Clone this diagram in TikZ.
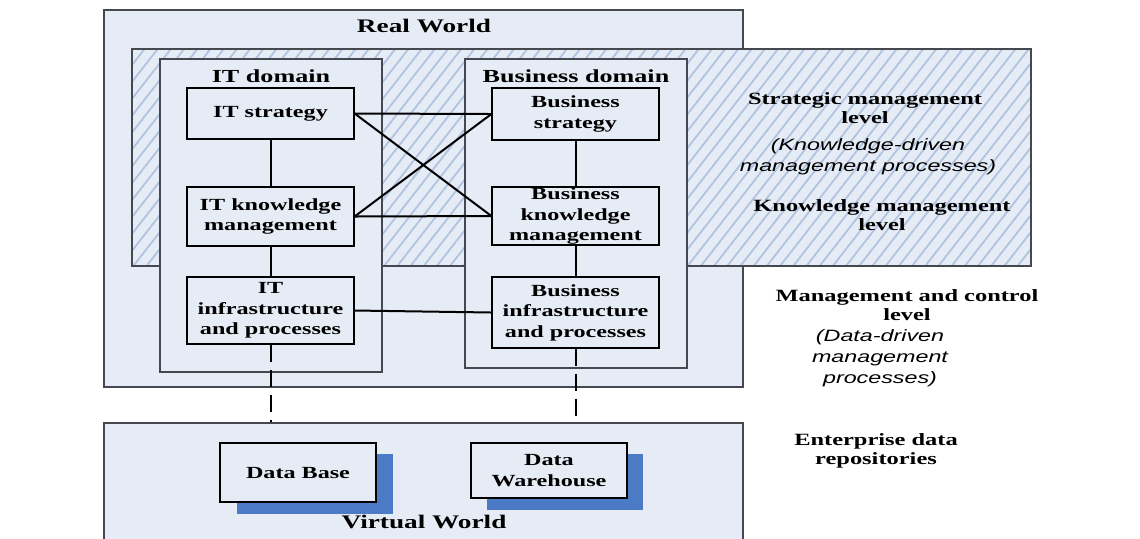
\documentclass[tikz,border=0pt]{standalone}
\usepackage{fontspec}
\setmainfont{Liberation Serif}[FakeStretch=1.42]
\newfontfamily\itsans{Liberation Sans}[FakeStretch=1.42]
\usetikzlibrary{patterns.meta,fit}
\definecolor{bgblue}{HTML}{E6ECF6}
\definecolor{hatchc}{HTML}{B0C3DF}
\definecolor{shadowc}{HTML}{4A7BC4}
\definecolor{edgec}{HTML}{45494F}
\tikzset{
  regionbox/.style={draw=edgec, line width=0.7pt, fill=bgblue, inner sep=0pt},
  hatchbox/.style={draw=edgec, line width=0.8pt, inner sep=0pt, preaction={fill=bgblue},
    pattern={Lines[angle=52,distance=5.2pt,line width=0.9pt]}, pattern color=hatchc},
  dombox/.style={draw=edgec, line width=0.6pt, fill=bgblue, inner sep=0pt},
  itembox/.style={draw=black, line width=0.6pt, fill=bgblue, inner sep=0pt},
  itemtext/.style={align=center, inner sep=0pt, font=\fontsize{8.5}{10.2}\selectfont\bfseries},
  shadowbox/.style={fill=shadowc, inner sep=0pt},
  titletext/.style={font=\fontsize{9.6}{11}\selectfont\bfseries},
  domtext/.style={font=\fontsize{9.2}{11}\selectfont\bfseries},
  lbltext/.style={align=center, font=\fontsize{8.6}{9.8}\selectfont\bfseries},
  ittext/.style={align=center, font=\fontsize{8.2}{10.5}\selectfont\itsans\itshape},
  conn/.style={line width=1pt, black},
  dconn/.style={line width=1pt, black, dash pattern=on 8.5pt off 4pt},
}
\begin{document}
\begin{tikzpicture}[x=0.5pt,y=-0.5pt]
\useasboundingbox (0,0) rectangle (1140,538);
% outer regions
\node[regionbox, fit={(104,10) (743,387)}] (rw) {};
\node[regionbox, fit={(104,423) (743,548)}] (vw) {};
\node[hatchbox, fit={(132,49) (1031,266)}] (km) {};
% domains
\node[dombox, fit={(160,59) (382,372)}] (itd) {};
\node[dombox, fit={(465,59) (687,368)}] (bd) {};
% titles
\node[titletext] (rwt) at (424,26) {Real World};
\node[titletext] (vwt) at (424,522) {Virtual World};
\node[domtext] (itdt) at (271,76) {IT domain};
\node[domtext] (bdt) at (576,76) {Business domain};
% IT boxes
\node[itembox, fit={(187,88) (354,139)}] (its) {};
\node[itemtext] (itst) at (its.center) {IT strategy};
\node[itembox, fit={(187,187) (354,246)}] (itk) {};
\node[itemtext] (itkt) at (itk.center) {IT knowledge\\management};
\node[itembox, fit={(187,277) (354,344)}] (iti) {};
\node[itemtext] (itit) at (iti.center) {IT\\infrastructure\\and processes};
% Business boxes
\node[itembox, fit={(492,88) (659,140)}] (bs) {};
\node[itemtext] (bst) at (bs.center) {Business\\strategy};
\node[itembox, fit={(492,187) (659,245)}] (bk) {};
\node[itemtext] (bkt) at (bk.center) {Business\\knowledge\\management};
\node[itembox, fit={(492,277) (659,348)}] (bi) {};
\node[itemtext] (bit) at (bi.center) {Business\\infrastructure\\and processes};
% repositories
\node[shadowbox, fit={(237,454) (393,514)}] (dbs) {};
\node[shadowbox, fit={(487,454) (643,510)}] (dws) {};
\node[itembox, fit={(220,443) (376,502)}] (db) {};
\node[itemtext] (dbt) at (db.center) {Data Base};
\node[itembox, fit={(471,443) (627,498)}] (dw) {};
\node[itemtext] (dwt) at (dw.center) {Data\\Warehouse};
% connectors
\draw[conn] (its) -- (itk);
\draw[conn] (itk) -- (iti);
\draw[conn] (bs) -- (bk);
\draw[conn] (bk) -- (bi);
\draw[conn] (its.east) -- (bs.west);
\draw[conn] (its.east) -- (bk.west);
\draw[conn] (itk.east) -- (bs.west);
\draw[conn] (itk.east) -- (bk.west);
\draw[conn] (iti.east) -- (bi.west);
\draw[dconn] (iti.south) -- (iti.south |- vw.north);
\draw[dconn] (bi.south) -- (bi.south |- vw.north);
% right-hand labels
\node[lbltext] (sml) at (865,108) {Strategic management\\level};
\node[ittext] (kdp) at (868,157) {(Knowledge-driven\\management processes)};
\node[lbltext] (kml) at (882,215) {Knowledge management\\level};
\node[lbltext] (mcl) at (907,305) {Management and control\\level};
\node[ittext] (ddp) at (880,358) {(Data-driven\\management\\processes)};
\node[lbltext] (edr) at (876,451) {Enterprise data\\repositories};
\end{tikzpicture}
\end{document}
